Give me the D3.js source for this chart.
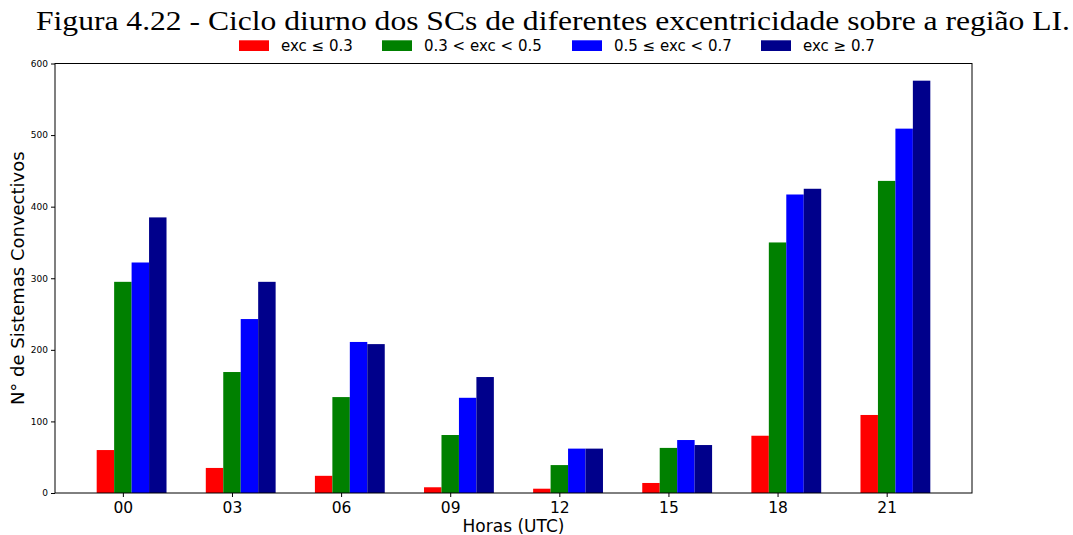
<!DOCTYPE html>
<html>
<head>
<meta charset="utf-8">
<script src="https://cdn.jsdelivr.net/npm/d3@7"></script>
<style>
  body { margin: 0; background: #fff; }
  svg { display: block; }
</style>
</head>
<body>
<svg id="chart" width="1073" height="535"></svg>
<script>
// Hours of the day (UTC) on the x axis
const hours = ["00", "03", "06", "09", "12", "15", "18", "21"];

// Eccentricity classes (legend labels and colours)
const classes = ["exc ≤ 0.3", "0.3 < exc < 0.5", "0.5 ≤ exc < 0.7", "exc ≥ 0.7"];
const colors = ["#ff0000", "#008000", "#0000ff", "#00008b"];

// Number of convective systems per class and hour
const excLow  = [60, 35, 24, 8, 6, 14, 80, 109];
const excMid  = [295, 169, 134, 81, 39, 63, 350, 436];
const excHigh = [322, 243, 211, 133, 62, 74, 417, 509];
const excTop  = [385, 295, 208, 162, 62, 67, 425, 576];
const series = [excLow, excMid, excHigh, excTop];

const yTicks = [0, 100, 200, 300, 400, 500, 600];

const svg = d3.select("#chart");
const margin = { left: 55, right: 101, top: 63.5, bottom: 42 };
const W = 1073, H = 535;
const x0 = margin.left, x1 = W - margin.right;
const y0 = H - margin.bottom, y1 = margin.top;

// bar width in units of the hour index; bars sit at offsets -1..2 widths
const bw = 0.16;
const offsets = [-1, 0, 1, 2];
const dataMin = -1.5 * bw, dataMax = hours.length - 1 + 2.5 * bw;
const pad = (dataMax - dataMin) * 0.05;

const x = d3.scaleLinear().domain([dataMin - pad, dataMax + pad]).range([x0, x1]);
const y = d3.scaleLinear().domain([0, 600]).range([y0, y1]);

// bars
series.forEach((vals, s) => {
  svg.append("g")
    .selectAll("rect")
    .data(vals)
    .join("rect")
    .attr("x", (d, i) => x(i + offsets[s] * bw - bw / 2))
    .attr("width", x(bw) - x(0))
    .attr("y", d => y(d))
    .attr("height", d => y(0) - y(d))
    .attr("fill", colors[s]);
});

// axes
const xAxis = d3.axisBottom(x)
  .tickValues(d3.range(hours.length))
  .tickFormat(i => hours[i])
  .tickSize(4).tickPadding(5);
const gx = svg.append("g").attr("transform", `translate(0,${y0})`).call(xAxis);
gx.select(".domain").remove();
gx.selectAll("text").attr("font-family", "DejaVu Sans, sans-serif").attr("font-size", 15.5).attr("fill", "#000");
gx.selectAll("line").attr("stroke", "#000");

const yAxis = d3.axisLeft(y).tickValues(yTicks).tickSize(4).tickPadding(3);
const gy = svg.append("g").attr("transform", `translate(${x0},0)`).call(yAxis);
gy.select(".domain").remove();
gy.selectAll("text").attr("font-family", "DejaVu Sans, sans-serif").attr("font-size", 9).attr("fill", "#000");
gy.selectAll("line").attr("stroke", "#000");

// frame
svg.append("rect")
  .attr("x", x0).attr("y", y1)
  .attr("width", x1 - x0).attr("height", y0 - y1)
  .attr("fill", "none").attr("stroke", "#000").attr("stroke-width", 1);

// title
svg.append("text")
  .attr("x", 553).attr("y", 30)
  .attr("text-anchor", "middle")
  .attr("font-family", "Liberation Serif, serif")
  .attr("font-size", 28)
  .attr("textLength", 1034)
  .attr("lengthAdjust", "spacingAndGlyphs")
  .text("Figura 4.22 - Ciclo diurno dos SCs de diferentes excentricidade sobre a região LI.");

// axis labels
svg.append("text")
  .attr("x", (x0 + x1) / 2).attr("y", 532)
  .attr("text-anchor", "middle")
  .attr("font-family", "DejaVu Sans, sans-serif")
  .attr("font-size", 17)
  .text("Horas (UTC)");

svg.append("text")
  .attr("transform", `translate(24,${(y0 + y1) / 2}) rotate(-90)`)
  .attr("text-anchor", "middle")
  .attr("font-family", "DejaVu Sans, sans-serif")
  .attr("font-size", 18)
  .text("N° de Sistemas Convectivos");

// legend
const legendX = [239, 382, 572, 761];
const lg = svg.append("g");
classes.forEach((c, i) => {
  lg.append("rect")
    .attr("x", legendX[i]).attr("y", 40.3)
    .attr("width", 30).attr("height", 10.7)
    .attr("fill", colors[i]);
  lg.append("text")
    .attr("x", legendX[i] + 42).attr("y", 51)
    .attr("font-family", "DejaVu Sans, sans-serif")
    .attr("font-size", 15)
    .text(c);
});
</script>
</body>
</html>
